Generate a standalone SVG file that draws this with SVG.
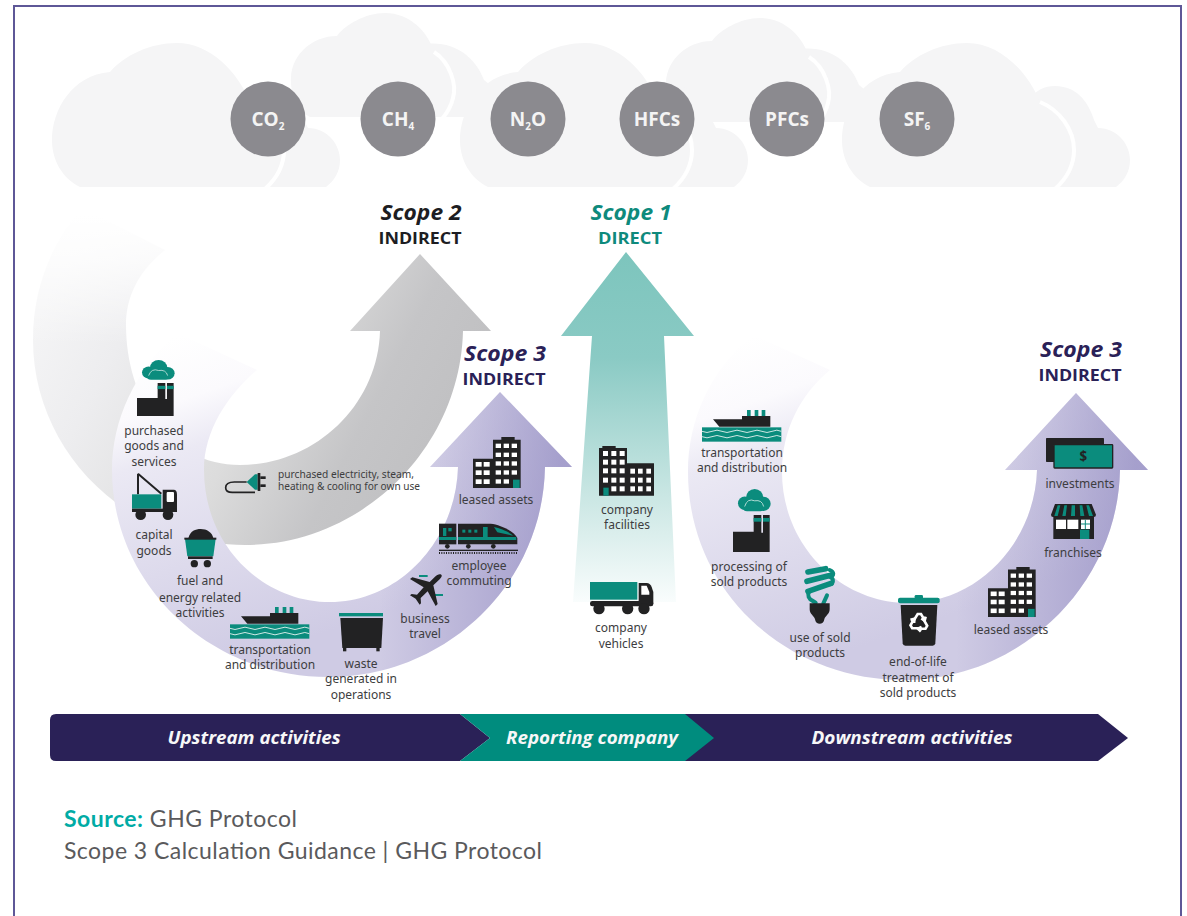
<svg xmlns="http://www.w3.org/2000/svg" width="1187" height="916" viewBox="0 0 1187 916">
<style>
.cl{fill:#f5f5f6}
.sep{fill:none;stroke:#fff;stroke-width:4}
.gas{fill:#8b8a8f}
.gt{font-family:"Open Sans","Liberation Sans",sans-serif;font-weight:700;font-size:19px;fill:#f4f4f4;text-anchor:middle}
.sub{font-size:10px}
.sc{font-family:"Open Sans","Liberation Sans",sans-serif;font-style:italic;font-weight:700;font-size:21px;text-anchor:middle}
.in{font-family:"Open Sans","Liberation Sans",sans-serif;font-weight:700;font-size:16px;text-anchor:middle}
.lb{font-family:"Noto Sans","Liberation Sans",sans-serif;font-size:12px;fill:#3d3d40;text-anchor:middle}
.lbs{font-family:"Noto Sans","Liberation Sans",sans-serif;font-size:10.5px;fill:#3d3d40}
.bar{font-family:"Open Sans","Liberation Sans",sans-serif;font-style:italic;font-weight:700;font-size:18.5px;fill:#f7f7f7;text-anchor:middle}
.src{font-family:"Lato","Liberation Sans",sans-serif;font-size:23px;fill:#5a5a5c}
.k{fill:#222223}.t{fill:#0b8c7d}.w{fill:#fff}
</style>
<defs>
<linearGradient id="gGrey" gradientUnits="userSpaceOnUse" x1="85" y1="225" x2="460" y2="420">
<stop offset="0" stop-color="#f4f4f5"/><stop offset=".2" stop-color="#ededef"/><stop offset=".55" stop-color="#dcdcdc"/><stop offset=".8" stop-color="#c5c5c7"/><stop offset="1" stop-color="#c0c0c2"/>
</linearGradient>
<linearGradient id="fadeTop" gradientUnits="userSpaceOnUse" x1="0" y1="215" x2="0" y2="345">
<stop offset="0" stop-color="#fff"/><stop offset=".35" stop-color="#fff" stop-opacity=".75"/><stop offset="1" stop-color="#fff" stop-opacity="0"/>
</linearGradient>
<linearGradient id="gPurL" gradientUnits="userSpaceOnUse" x1="180" y1="335" x2="300" y2="680">
<stop offset="0" stop-color="#fff"/><stop offset=".17" stop-color="#fbfafd"/><stop offset=".3" stop-color="#ebe9f4"/><stop offset=".9" stop-color="#cfcbe4"/>
</linearGradient>
<linearGradient id="gPurR" gradientUnits="userSpaceOnUse" x1="756" y1="335" x2="876" y2="680">
<stop offset="0" stop-color="#fff"/><stop offset=".17" stop-color="#fbfafd"/><stop offset=".3" stop-color="#ebe9f4"/><stop offset=".9" stop-color="#cfcbe4"/>
</linearGradient>
<linearGradient id="oPurL" gradientUnits="userSpaceOnUse" x1="380" y1="0" x2="560" y2="0">
<stop offset="0" stop-color="#8f88c0" stop-opacity="0"/><stop offset="1" stop-color="#8f88c0" stop-opacity=".7"/>
</linearGradient>
<linearGradient id="oPurR" gradientUnits="userSpaceOnUse" x1="956" y1="0" x2="1136" y2="0">
<stop offset="0" stop-color="#8f88c0" stop-opacity="0"/><stop offset="1" stop-color="#8f88c0" stop-opacity=".7"/>
</linearGradient>
<linearGradient id="gTeal" gradientUnits="userSpaceOnUse" x1="0" y1="252" x2="0" y2="604">
<stop offset="0" stop-color="#7dc5bd"/><stop offset=".3" stop-color="#8acac4"/><stop offset=".7" stop-color="#cbe7e4"/><stop offset="1" stop-color="#fafdfd"/>
</linearGradient>
<path id="bandL" d="M177 333L257 370C228 395 204 430 204 470C204 545 262 602 330 602C400 602 456 540 458 467H430L500 392L572 467H545C543 585 445 677 328 677C210 677 112 585 112 470C112 420 135 370 177 333Z"/>
<path id="bandR" d="M753 335L830 370C800 395 782 430 782 472C782 545 840 603 908 603C980 603 1035 540 1037 470H1005L1076 393L1148 470H1120C1118 585 1020 680 904 680C785 680 688 590 688 472C688 420 710 370 753 335Z"/>
<g id="cloudBig"><path class="cl" d="M240 187V100C245 90 255 86 265 86C285 86 298 100 304 120L308 128C328 128 340 145 340 160C340 172 334 181 326 187Z"/><path class="cl" d="M80 187C62 178 52 160 52 140C52 110 72 75 110 72C125 55 150 43 177 43C210 43 238 72 250 102C270 110 282 130 282 150C282 167 273 180 263 187Z"/><path class="sep" d="M250 102C270 110 284 130 284 150C284 167 275 180 265 189"/></g>
<g id="cloudTop"><path class="cl" d="M420 117V45C450 38 475 55 484 80L496 90V117Z"/><path class="cl" d="M310 117C296 110 290 92 291 77C292 55 312 36 337 36C345 25 365 13 385 13C410 13 428 32 434 52C450 62 455 85 451 98C449 107 445 113 440 117Z"/><path class="sep" d="M434 52C450 62 457 85 453 98C451 107 447 113 442 119"/></g>
<g id="factory"><g class="t"><circle cx="35" cy="42" r="20"/><circle cx="65" cy="26" r="26"/><circle cx="92" cy="44" r="21"/><rect x="30" y="40" width="65" height="26" rx="12"/></g><path d="M35 52q8-26 30-17q22-4 27 17" fill="none" stroke="#cfe8e4" stroke-width="2.5"/><path class="k" d="M0 127H62V77H85V130H90V77H110V187H0Z"/><rect class="t" x="62" y="86" width="23" height="11"/><rect class="t" x="90" y="86" width="20" height="11"/></g>
<g id="ship"><rect class="t" x="0" y="52" width="238" height="43"/><path class="k" d="M33 28H120V18H205V50H52Z"/><rect class="t" x="135" y="0" width="11" height="18"/><rect class="t" x="158" y="0" width="11" height="18"/><rect class="t" x="179" y="0" width="11" height="18"/><path d="M0 64q15 7 30 0t30 0t30 0t30 0t30 0t30 0t30 0t28 0M0 80q15 7 30 0t30 0t30 0t30 0t30 0t30 0t30 0t28 0" fill="none" stroke="#cfe8e4" stroke-width="3"/></g>
<g id="building"><path class="k" d="M0 65H60V8H85V0H125V8H143V153H0Z"/><g class="w"><rect x="8" y="75" width="18" height="14"/><rect x="32" y="75" width="18" height="14"/><rect x="8" y="100" width="18" height="14"/><rect x="32" y="100" width="18" height="14"/><rect x="8" y="127" width="18" height="14"/><rect x="32" y="127" width="18" height="14"/><rect x="68" y="20" width="16" height="13"/><rect x="92" y="20" width="16" height="13"/><rect x="116" y="20" width="16" height="13"/><rect x="68" y="47" width="16" height="13"/><rect x="92" y="47" width="16" height="13"/><rect x="116" y="47" width="16" height="13"/><rect x="68" y="73" width="16" height="13"/><rect x="92" y="73" width="16" height="13"/><rect x="116" y="73" width="16" height="13"/><rect x="68" y="100" width="16" height="13"/><rect x="92" y="100" width="16" height="13"/><rect x="116" y="100" width="16" height="13"/><rect x="68" y="127" width="16" height="13"/><rect x="92" y="127" width="16" height="13"/></g><rect class="t" x="120" y="128" width="20" height="25"/></g>
</defs>

<path id="frame" d="M14 916V6H1181V916" fill="none" stroke="#5e5797" stroke-width="2"/>

<g id="clouds">
<use href="#cloudTop"/>
<use href="#cloudTop" transform="translate(375 5)"/>
<use href="#cloudBig"/>
<use href="#cloudBig" transform="translate(408 0)"/>
<use href="#cloudBig" transform="translate(790 0)"/>
</g>

<g id="gases">
<g id="gas-co2"><circle class="gas" cx="268" cy="119" r="37.5"/><text class="gt" x="268" y="126">CO<tspan class="sub" dy="4">2</tspan></text></g>
<g id="gas-ch4"><circle class="gas" cx="398" cy="119" r="37.5"/><text class="gt" x="398" y="126">CH<tspan class="sub" dy="4">4</tspan></text></g>
<g id="gas-n2o"><circle class="gas" cx="528" cy="119" r="37.5"/><text class="gt" x="528" y="126">N<tspan class="sub" dy="4">2</tspan><tspan dy="-4">O</tspan></text></g>
<g id="gas-hfcs"><circle class="gas" cx="657" cy="119" r="37.5"/><text class="gt" x="657" y="126">HFCs</text></g>
<g id="gas-pfcs"><circle class="gas" cx="787" cy="119" r="37.5"/><text class="gt" x="787" y="126">PFCs</text></g>
<g id="gas-sf6"><circle class="gas" cx="917" cy="119" r="37.5"/><text class="gt" x="917" y="126">SF<tspan class="sub" dy="4">6</tspan></text></g>
</g>

<g id="connectors">
<path id="arrow-scope2" fill="url(#gGrey)" d="M82 208C50 245 33 290 33 340C33 450 125 545 245 545C360 545 460 450 463 331H491L420 254L350 331H380C378 405 315 465 240 465C170 465 126 400 126 325C126 295 140 270 165 250Z"/>
<rect id="arrow-scope2-fade" x="25" y="200" width="150" height="145" fill="url(#fadeTop)"/>
<g id="arrow-scope3-up"><use href="#bandL" fill="url(#gPurL)"/><use href="#bandL" fill="url(#oPurL)"/></g>
<path id="arrow-scope1" fill="url(#gTeal)" d="M626 252L694 336H664L676 602H573L592 336H561Z"/>
<g id="arrow-scope3-down"><use href="#bandR" fill="url(#gPurR)"/><use href="#bandR" fill="url(#oPurR)"/></g>
</g>

<g id="scope-labels">
<g id="scope2-label"><text class="sc" x="421" y="220" fill="#1d1d22" textLength="81" lengthAdjust="spacingAndGlyphs">Scope 2</text><text class="in" x="420" y="244" fill="#1d1d22" textLength="83" lengthAdjust="spacingAndGlyphs">INDIRECT</text></g>
<g id="scope1-label"><text class="sc" x="631" y="220" fill="#0e8a7c" textLength="81" lengthAdjust="spacingAndGlyphs">Scope 1</text><text class="in" x="630" y="244" fill="#0e8a7c" textLength="64" lengthAdjust="spacingAndGlyphs">DIRECT</text></g>
<g id="scope3-left-label"><text class="sc" x="505" y="361" fill="#2a2157" textLength="82" lengthAdjust="spacingAndGlyphs">Scope 3</text><text class="in" x="504" y="385" fill="#2a2157" textLength="83" lengthAdjust="spacingAndGlyphs">INDIRECT</text></g>
<g id="scope3-right-label"><text class="sc" x="1081" y="357" fill="#2a2157" textLength="82" lengthAdjust="spacingAndGlyphs">Scope 3</text><text class="in" x="1080" y="381" fill="#2a2157" textLength="83" lengthAdjust="spacingAndGlyphs">INDIRECT</text></g>
</g>

<g id="purchased-goods"><use href="#factory" transform="translate(137 360) scale(.333 .3)"/><text class="lb" x="154" y="435">purchased</text><text class="lb" x="154" y="450">goods and</text><text class="lb" x="154" y="466">services</text></g>
<g id="capital-goods"><g transform="translate(132 473) scale(.3333)"><path d="M18 2V64M18 2L88 62" stroke="#222223" stroke-width="6" fill="none"/><rect class="t" x="0" y="64" width="88" height="43"/><path class="k" d="M92 50H125Q135 50 135 65V112H92Z"/><rect class="w" x="104" y="57" width="22" height="30" rx="3"/><rect class="k" x="0" y="107" width="135" height="10"/><circle class="k" cx="26" cy="125" r="16"/><circle class="k" cx="108" cy="125" r="16"/></g><text class="lb" x="154" y="539">capital</text><text class="lb" x="154" y="555">goods</text></g>
<g id="fuel-energy"><g transform="translate(184 529) scale(.3333)"><path class="k" d="M13 28C18 5 35 0 50 0C68 0 85 10 88 28Z"/><path class="t" d="M3 30H95L88 82H10Z"/><rect class="k" x="1" y="26" width="96" height="6"/><rect class="k" x="12" y="82" width="74" height="8"/><circle class="k" cx="31" cy="104" r="11"/><circle class="k" cx="70" cy="104" r="11"/></g><text class="lb" x="200" y="585">fuel and</text><text class="lb" x="200" y="602">energy related</text><text class="lb" x="200" y="617">activities</text></g>
<g id="transport-up"><use href="#ship" transform="translate(230 607) scale(.3333)"/><text class="lb" x="270" y="654">transportation</text><text class="lb" x="270" y="669">and distribution</text></g>
<g id="waste"><g transform="translate(339 613) scale(.3333)"><rect class="t" x="0" y="0" width="132" height="10"/><path class="k" d="M4 15H132L127 105H10Z"/><rect class="k" x="12" y="105" width="10" height="10"/><rect class="k" x="112" y="105" width="10" height="10"/></g><text class="lb" x="361" y="668">waste</text><text class="lb" x="361" y="683">generated in</text><text class="lb" x="361" y="699">operations</text></g>
<g id="business-travel"><g transform="translate(409 574) scale(.3333)"><rect class="t" x="30" y="3" width="26" height="6"/><rect class="t" x="78" y="60" width="24" height="6"/><path class="k" d="M97 2C92-1 84 2 78 8L62 24L10 10L3 15L44 40L24 62L8 60L3 64L20 74L32 92L36 88L35 72L56 52L80 96L86 90L73 34L92 16C98 9 100 5 97 2Z"/></g><text class="lb" x="425" y="623">business</text><text class="lb" x="425" y="638">travel</text></g>
<g id="employee-commuting"><g transform="translate(439 523) scale(.3333)"><rect class="k" x="0" y="2" width="52" height="62"/><path class="k" d="M57 2H155C185 5 225 25 235 45V64H57Z"/><rect class="t" x="0" y="42" width="52" height="9"/><rect class="t" x="57" y="42" width="175" height="9"/><rect class="t" x="12" y="15" width="10" height="24"/><rect class="t" x="28" y="15" width="10" height="10"/><rect class="t" x="70" y="20" width="9" height="9"/><rect class="t" x="88" y="20" width="9" height="9"/><rect class="t" x="106" y="20" width="9" height="9"/><rect class="t" x="132" y="12" width="14" height="30"/><path class="t" d="M165 12C185 15 215 30 222 38L175 28Z"/><circle class="k" cx="25" cy="70" r="7"/><circle class="k" cx="88" cy="70" r="7"/><circle class="k" cx="163" cy="70" r="7"/><rect class="k" x="0" y="80" width="237" height="4"/><path d="M0 90H237" stroke="#222223" stroke-width="6" stroke-dasharray="3 4"/></g><text class="lb" x="479" y="570">employee</text><text class="lb" x="479" y="585">commuting</text></g>
<g id="leased-assets-up"><use href="#building" transform="translate(473 437) scale(.3333)"/><text class="lb" x="496" y="504">leased assets</text></g>
<g id="purchased-electricity"><g transform="translate(225 471) scale(.3333)"><path d="M65 33H28C8 33 2 40 2 50C2 60 10 64 22 64H90" fill="none" stroke="#222223" stroke-width="5"/><path class="t" d="M65 33L90 10H98V56H90Z"/><rect class="k" x="98" y="6" width="8" height="54"/><rect class="k" x="106" y="16" width="16" height="8"/><rect class="k" x="106" y="40" width="16" height="8"/></g><text class="lbs" x="278" y="478" textLength="136" lengthAdjust="spacingAndGlyphs">purchased electricity, steam,</text><text class="lbs" x="278" y="490" textLength="142" lengthAdjust="spacingAndGlyphs">heating &amp; cooling for own use</text></g>

<g id="company-facilities"><g transform="translate(599 446) scale(.3333)"><path class="k" d="M0 6H10V0H50V6H84V52H165V149H0Z"/><g class="w"><rect x="12" y="15" width="15" height="15"/><rect x="37" y="15" width="15" height="15"/><rect x="62" y="15" width="15" height="15"/><rect x="12" y="41" width="15" height="15"/><rect x="37" y="41" width="15" height="15"/><rect x="62" y="41" width="15" height="15"/><rect x="12" y="67" width="15" height="15"/><rect x="37" y="67" width="15" height="15"/><rect x="62" y="67" width="15" height="15"/><rect x="12" y="95" width="15" height="15"/><rect x="37" y="95" width="15" height="15"/><rect x="62" y="95" width="15" height="15"/><rect x="37" y="121" width="15" height="15"/><rect x="62" y="121" width="15" height="15"/><rect x="94" y="68" width="14" height="15"/><rect x="117" y="68" width="14" height="15"/><rect x="142" y="68" width="14" height="15"/><rect x="94" y="95" width="14" height="15"/><rect x="117" y="95" width="14" height="15"/><rect x="142" y="95" width="14" height="15"/><rect x="94" y="121" width="14" height="15"/><rect x="117" y="121" width="14" height="15"/><rect x="142" y="121" width="14" height="15"/></g><rect class="t" x="13" y="125" width="16" height="24"/></g><text class="lb" x="627" y="514">company</text><text class="lb" x="627" y="529">facilities</text></g>
<g id="company-vehicles"><g transform="translate(590 582) scale(.3333)"><rect class="t" x="0" y="0" width="142" height="53"/><path class="k" d="M146 3H170Q180 3 185 15L190 30V65H146Z"/><path class="w" d="M154 11H170L178 30V38H154Z"/><rect class="k" x="0" y="57" width="190" height="16" rx="7"/><circle class="k" cx="27" cy="80" r="17"/><circle class="k" cx="113" cy="80" r="17"/><circle class="k" cx="162" cy="80" r="17"/></g><text class="lb" x="621" y="632">company</text><text class="lb" x="621" y="648">vehicles</text></g>

<g id="transport-down"><use href="#ship" transform="translate(702 410) scale(.3333)"/><text class="lb" x="742" y="457">transportation</text><text class="lb" x="742" y="472">and distribution</text></g>
<g id="processing"><use href="#factory" transform="translate(733 489) scale(.3333 .337)"/><text class="lb" x="749" y="571">processing of</text><text class="lb" x="749" y="586">sold products</text></g>
<g id="use-sold"><g transform="translate(805 566) scale(.3333)"><path d="M9 18L62 8M6 46L80 27M9 76L78 52" fill="none" stroke="#0b8c7d" stroke-width="17" stroke-linecap="round"/><path d="M74 12C88 18 88 30 76 30M74 32C88 38 86 54 74 55M12 78C6 88 12 100 22 104L32 110M55 112L66 88" fill="none" stroke="#0b8c7d" stroke-width="12" stroke-linecap="round"/><path class="k" d="M14 112H74V130C74 145 60 150 58 160C56 178 32 178 30 160C28 150 14 145 14 130Z"/></g><text class="lb" x="820" y="642">use of sold</text><text class="lb" x="820" y="657">products</text></g>
<g id="end-of-life"><g transform="translate(898 595) scale(.3333)"><rect class="t" x="50" y="0" width="25" height="12" rx="4"/><rect class="t" x="0" y="8" width="125" height="17" rx="6"/><path class="k" d="M8 30H118L112 145Q111 152 104 152H22Q15 152 14 145Z"/><g transform="translate(63 83)" fill="none" stroke="#fff" stroke-width="8"><path d="M-16 -6L-4 -26H6L16 -9M7 -13L17 -6L20 -18"/><path d="M-16 -6L-4 -26H6L16 -9M7 -13L17 -6L20 -18" transform="rotate(120)"/><path d="M-16 -6L-4 -26H6L16 -9M7 -13L17 -6L20 -18" transform="rotate(240)"/></g></g><text class="lb" x="918" y="666">end-of-life</text><text class="lb" x="918" y="682">treatment of</text><text class="lb" x="918" y="697">sold products</text></g>
<g id="leased-assets-down"><use href="#building" transform="translate(988 567) scale(.3333 .327)"/><text class="lb" x="1011" y="634">leased assets</text></g>
<g id="franchises"><g transform="translate(1051 504) scale(.3333)"><rect class="k" x="7" y="30" width="122" height="75"/><rect class="w" x="15" y="47" width="30" height="28"/><rect class="w" x="49" y="47" width="33" height="28"/><rect class="w" x="90" y="47" width="27" height="28"/><path d="M103 47V75M90 60H117" stroke="#0b8c7d" stroke-width="3"/><rect class="t" x="87" y="77" width="28" height="28"/><path class="k" d="M0 32L12 0H122L135 32Q135 42 122 38H12Q0 42 0 32Z"/><path class="t" d="M20 4H28L20 36H10ZM40 4H48L44 36H34ZM62 4H72V36H60ZM86 4H94L100 36H88ZM106 4H114L126 36H114Z"/></g><text class="lb" x="1073" y="557">franchises</text></g>
<g id="investments"><g transform="translate(1046 438) scale(.3333)"><rect class="k" x="0" y="0" width="174" height="72" rx="2"/><rect class="t" x="24" y="20" width="176" height="70" rx="2" stroke="#222223" stroke-width="4"/><text x="112" y="70" font-family="'Open Sans','Liberation Sans',sans-serif" font-weight="700" font-size="40" fill="#222223" text-anchor="middle">$</text></g><text class="lb" x="1080" y="488">investments</text></g>

<g id="activity-bar">
<path id="bar-up" fill="#2a2157" d="M56 714H460L490 738L460 761H56Q50 761 50 755V720Q50 714 56 714Z"/>
<path id="bar-down" fill="#2a2157" d="M685 714H1098L1128 738L1098 761H685Z"/>
<path id="bar-mid" fill="#008c7e" d="M460 714H685L714 738L685 761H460L490 738Z"/>
<text class="bar" x="254" y="744" textLength="173" lengthAdjust="spacingAndGlyphs">Upstream activities</text>
<text class="bar" x="592" y="744" textLength="172" lengthAdjust="spacingAndGlyphs">Reporting company</text>
<text class="bar" x="912" y="744" textLength="201" lengthAdjust="spacingAndGlyphs">Downstream activities</text>
</g>

<g id="source">
<text class="src" x="64" y="827" textLength="233"><tspan font-weight="700" fill="#00aba5">Source:</tspan> GHG Protocol</text>
<text class="src" x="64" y="859" textLength="478">Scope 3 Calculation Guidance | GHG Protocol</text>
</g>
</svg>
